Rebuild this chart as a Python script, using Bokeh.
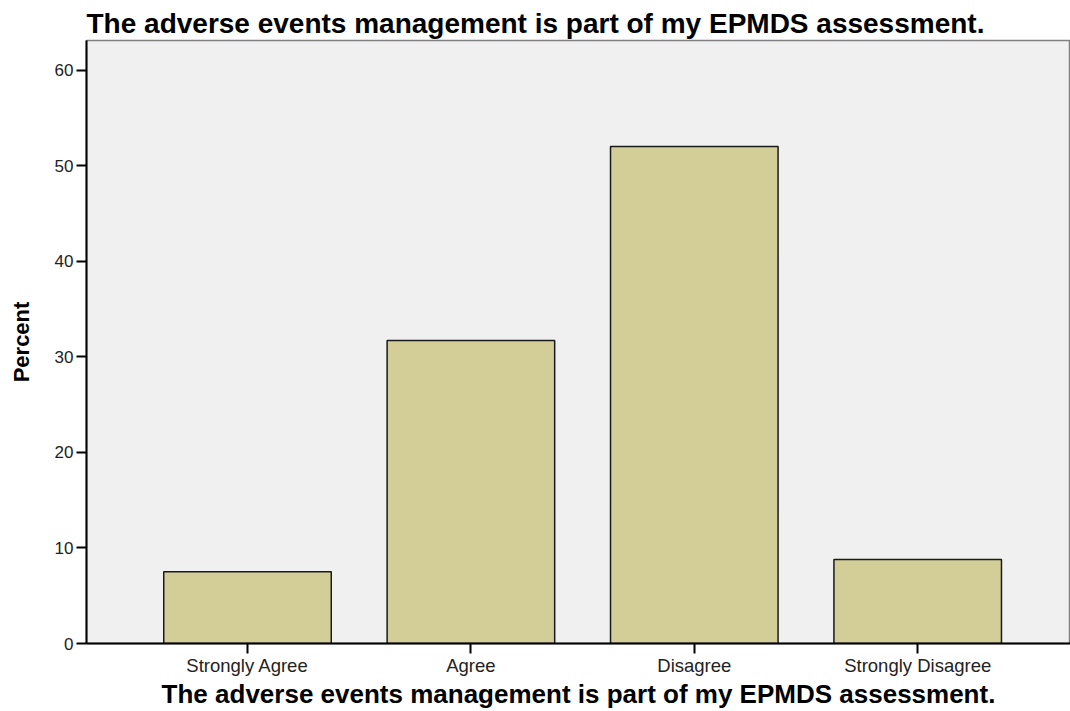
from bokeh.plotting import figure
from bokeh.models import Range1d, FixedTicker, ColumnDataSource
from bokeh.embed import file_html
from bokeh.resources import INLINE

categories = ["Strongly Agree", "Agree", "Disagree", "Strongly Disagree"]
percent = [7.5, 31.7, 52.0, 8.8]
y_ticks = [0, 10, 20, 30, 40, 50, 60]
title_text = "The adverse events management is part of my EPMDS assessment."

xpos = [i + 0.5 for i in range(len(categories))]
src = ColumnDataSource(dict(x=xpos, top=percent, cat=categories))

p = figure(width=1070, height=711, output_backend="svg", toolbar_location=None,
           x_range=Range1d(-0.2207, 4.184), y_range=Range1d(0, 63.09),
           min_border_left=86, min_border_right=0, min_border_top=40, min_border_bottom=68)

p.vbar(x="x", top="top", bottom=0, width=0.75, source=src,
       fill_color="#D3CE98", line_color="#1a1a1a", line_width=1.5)

p.background_fill_color = "#F0F0F0"
p.border_fill_color = "white"
p.outline_line_color = "#808080"
p.outline_line_width = 1.5
p.grid.visible = False

p.title.text = title_text
p.title.align = "left"
p.title.text_font = "Liberation Sans"
p.title.text_font_size = "28px"
p.title.text_font_style = "bold"
p.title.text_color = "black"
p.title.standoff = 3

xa = p.xaxis[0]
xa.ticker = FixedTicker(ticks=xpos)
xa.major_label_overrides = {x: c for x, c in zip(xpos, categories)}
xa.axis_label = title_text
xa.axis_label_text_font = "Liberation Sans"
xa.axis_label_text_font_size = "26px"
xa.axis_label_text_font_style = "bold"
xa.axis_label_text_color = "black"
xa.axis_label_standoff = 0
xa.major_label_text_font = "Liberation Sans"
xa.major_label_text_font_size = "18.5px"
xa.major_label_text_color = "#222222"
xa.major_label_standoff = 1
xa.major_tick_out = 10
xa.major_tick_in = 0
xa.minor_tick_line_color = None
xa.axis_line_color = "black"
xa.axis_line_width = 2
xa.major_tick_line_width = 2

ya = p.yaxis[0]
ya.ticker = FixedTicker(ticks=y_ticks)
ya.axis_label = "Percent"
ya.axis_label_text_font = "Liberation Sans"
ya.axis_label_text_font_size = "22px"
ya.axis_label_text_font_style = "bold"
ya.axis_label_text_color = "black"
ya.axis_label_standoff = 18
ya.major_label_text_font = "Liberation Sans"
ya.major_label_text_font_size = "17px"
ya.major_label_text_color = "#222222"
ya.major_label_standoff = 3
ya.major_tick_out = 10
ya.major_tick_in = 0
ya.minor_tick_line_color = None
ya.axis_line_color = "black"
ya.axis_line_width = 2
ya.major_tick_line_width = 2

open("out.html", "w").write(file_html(p, INLINE))
